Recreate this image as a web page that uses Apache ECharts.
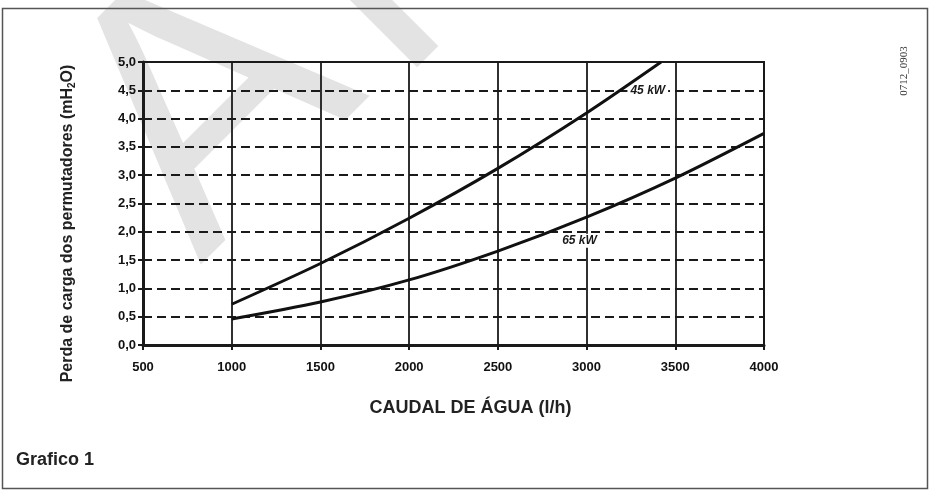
<!DOCTYPE html>
<html>
<head>
<meta charset="utf-8">
<script src="https://cdn.jsdelivr.net/npm/echarts@6/dist/echarts.min.js"></script>
<style>
  html, body { margin: 0; padding: 0; background: #ffffff; }
  #chart { width: 930px; height: 495px; }
</style>
</head>
<body>
<div id="chart"></div>
<script>
// Caudal de água (l/h) e perda de carga (mH2O) por modelo
const flow45 = [1000, 1500, 2000, 2500, 3000, 3420];
const loss45 = [0.72, 1.44, 2.24, 3.12, 4.10, 5.00];
const flow65 = [1000, 1500, 2000, 2500, 3000, 3500, 4000];
const loss65 = [0.46, 0.76, 1.15, 1.66, 2.26, 2.95, 3.74];

// Posição das etiquetas das curvas (l/h, mH2O)
const label45 = [3345, 4.5];
const label65 = [2960, 1.84];

const seriesNames = ['45 kW', '65 kW'];
const xTitle = 'CAUDAL DE ÁGUA (l/h)';
const docCode = '0712_0903';
const figTitle = 'Grafico 1';

const ink = '#1a1a1a';
const font = '"Liberation Sans", Arial, Helvetica, sans-serif';
const markFill = '#e3e3e3';

function pairs(xs, ys) { return xs.map((x, i) => [x, ys[i]]); }

function curveLabel(pos, text) {
  return {
    symbol: 'rect',
    symbolSize: 0,
    silent: true,
    data: [{ coord: pos, name: text }],
    label: {
      show: true,
      position: 'inside',
      formatter: '{b}',
      fontFamily: font,
      fontSize: 12,
      fontWeight: 'bold',
      fontStyle: 'italic',
      color: ink,
      backgroundColor: '#ffffff',
      padding: [1, 3]
    }
  };
}

function watermarkLetter(ch, x, y) {
  return {
    type: 'text',
    z: -10,
    silent: true,
    x: x,
    y: y,
    rotation: Math.PI / 4,
    style: {
      text: ch,
      fontFamily: font,
      fontSize: 360,
      fill: markFill,
      textAlign: 'center',
      textVerticalAlign: 'middle'
    }
  };
}

const chart = echarts.init(document.getElementById('chart'), null, { renderer: 'canvas' });

chart.setOption({
  animation: false,
  backgroundColor: '#ffffff',
  graphic: [
    watermarkLetter('A', 215, 110),
    watermarkLetter('N', 418, -74),
    {
      type: 'rect',
      z: 10,
      shape: { x: 2.5, y: 8.5, width: 925, height: 480 },
      style: { fill: 'none', stroke: '#555555', lineWidth: 1.5 }
    },
    {
      type: 'text',
      x: 904,
      y: 71,
      rotation: Math.PI / 2,
      style: {
        text: docCode,
        fontFamily: '"Liberation Serif", "Times New Roman", serif',
        fontSize: 11,
        fill: '#333333',
        textAlign: 'center',
        textVerticalAlign: 'middle'
      }
    },
    {
      type: 'text',
      x: 16,
      y: 460,
      style: {
        text: figTitle,
        fontFamily: font,
        fontSize: 18,
        fontWeight: 'bold',
        fill: '#222222',
        textAlign: 'left',
        textVerticalAlign: 'middle'
      }
    }
  ],
  grid: {
    left: 143,
    right: 166,
    top: 62,
    bottom: 150,
    show: true,
    borderColor: ink,
    borderWidth: 2,
    backgroundColor: 'transparent'
  },
  xAxis: {
    type: 'value',
    min: 500,
    max: 4000,
    interval: 500,
    name: xTitle,
    nameLocation: 'middle',
    nameGap: 54,
    nameTextStyle: {
      fontFamily: font,
      fontSize: 18,
      fontWeight: 'bold',
      color: '#222222',
      padding: [0, 0, 0, 34]
    },
    axisLine: { show: true, lineStyle: { color: ink, width: 3 } },
    axisTick: { show: true, length: 5, lineStyle: { color: ink, width: 2 } },
    axisLabel: {
      fontFamily: font,
      fontSize: 13,
      fontWeight: 'bold',
      color: '#111111',
      margin: 16,
      formatter: v => String(v)
    },
    splitLine: { show: true, lineStyle: { color: ink, width: 1.8, type: 'solid' } }
  },
  yAxis: {
    type: 'value',
    min: 0,
    max: 5,
    interval: 0.5,
    name: '{t|Perda de carga dos permutadores (mH}{s|2}{t|O)}',
    nameLocation: 'middle',
    nameGap: 66,
    nameRotate: 90,
    nameTextStyle: {
      padding: [0, 40, 0, 0],
      rich: {
        t: { fontFamily: font, fontSize: 16, fontWeight: 'bold', color: '#222222' },
        s: { fontFamily: font, fontSize: 10, fontWeight: 'bold', color: '#222222', padding: [8, 0, 0, 0] }
      }
    },
    axisLine: { show: true, lineStyle: { color: ink, width: 3 } },
    axisTick: { show: true, length: 5, lineStyle: { color: ink, width: 2 } },
    axisLabel: {
      fontFamily: font,
      fontSize: 13,
      fontWeight: 'bold',
      color: '#111111',
      margin: 7,
      formatter: v => v.toFixed(1).replace('.', ',')
    },
    splitLine: { show: true, lineStyle: { color: ink, width: 2, type: [9, 5] } }
  },
  series: [
    {
      name: seriesNames[0],
      type: 'line',
      data: pairs(flow45, loss45),
      smooth: 0.3,
      showSymbol: false,
      lineStyle: { color: '#111111', width: 3 },
      z: 5,
      markPoint: curveLabel(label45, seriesNames[0])
    },
    {
      name: seriesNames[1],
      type: 'line',
      data: pairs(flow65, loss65),
      smooth: 0.3,
      showSymbol: false,
      lineStyle: { color: '#111111', width: 3 },
      z: 5,
      markPoint: curveLabel(label65, seriesNames[1])
    }
  ]
});
</script>
</body>
</html>
